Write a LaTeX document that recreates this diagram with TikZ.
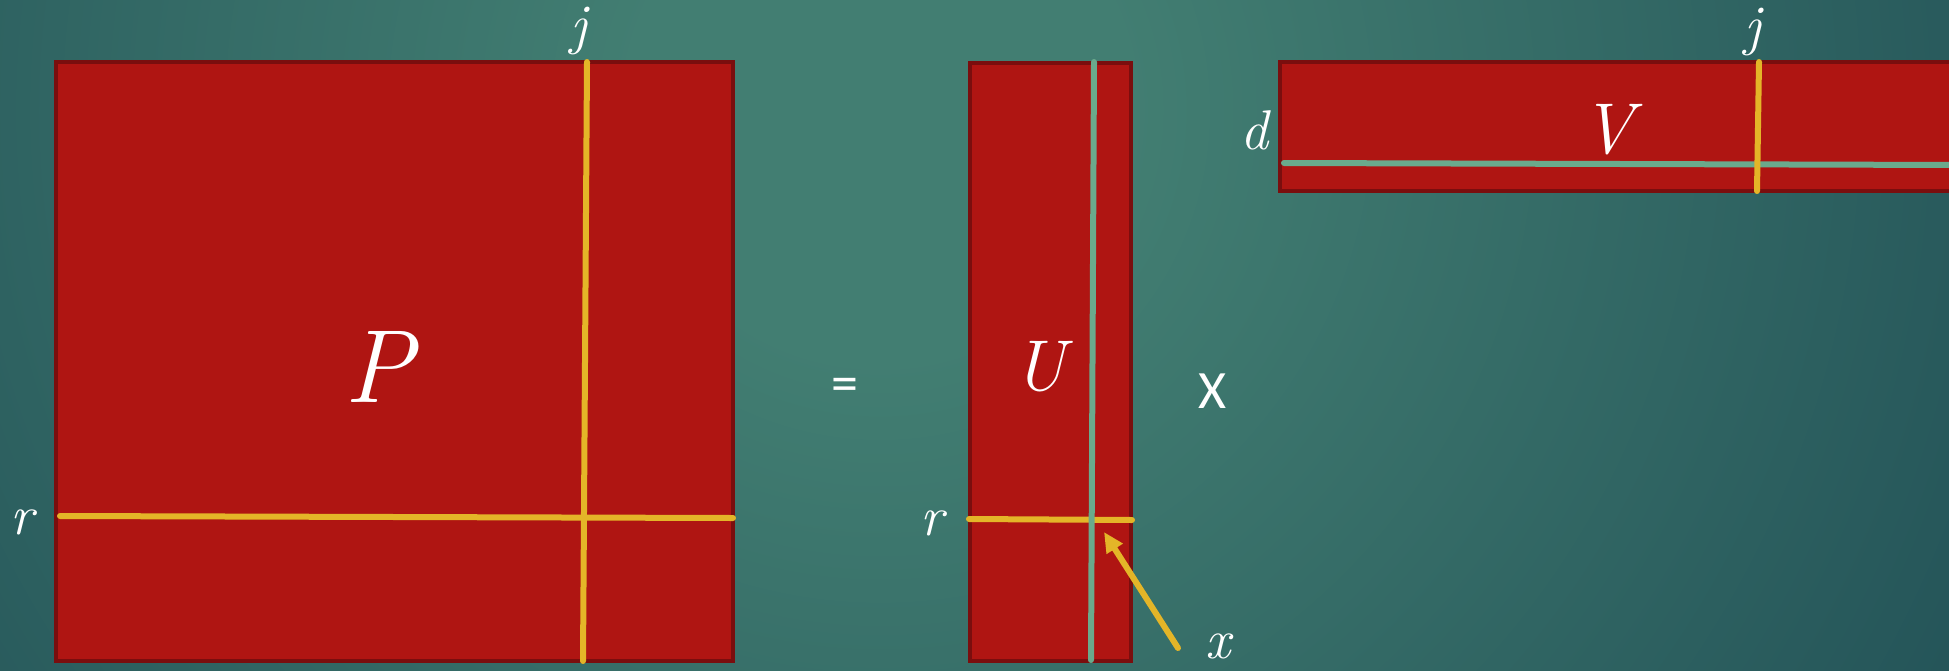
\documentclass[tikz,border=0pt]{standalone}
\usepackage{fontspec}
\newfontfamily\sansf{Carlito}
\usetikzlibrary{arrows.meta}
\definecolor{boxred}{RGB}{175,21,18}
\definecolor{boxedge}{RGB}{122,14,14}
\definecolor{lineyellow}{RGB}{228,181,40}
\definecolor{linegreen}{RGB}{106,170,140}
\definecolor{bglight}{RGB}{66,126,114}
\definecolor{bgdark}{RGB}{26,70,80}
\pgfdeclareradialshading{bgshade}{\pgfpoint{0bp}{0bp}}{color(0bp)=(bglight); color(4bp)=(bglight); color(25bp)=(bgdark); color(50bp)=(bgdark)}
\begin{document}
\begin{tikzpicture}[x=0.5pt,y=-0.5pt,
  matbox/.style={fill=boxred, draw=boxedge, line width=2pt},
  yline/.style={draw=lineyellow, line width=3pt, line cap=round},
  gline/.style={draw=linegreen, line width=3pt, line cap=round},
  lbl/.style={text=white, inner sep=0pt, font=\fontsize{28}{32}\selectfont\itshape},
  biglbl/.style={text=white, inner sep=0pt, font=\fontsize{52}{56}\selectfont\itshape},
  midlbl/.style={text=white, inner sep=0pt, font=\fontsize{36}{40}\selectfont\itshape},
  oplbl/.style={text=white, inner sep=0pt, font=\sansf\fontsize{27}{30}\selectfont}]
\useasboundingbox (0,0) rectangle (1949,670);
\begin{scope}
\clip (0,0) rectangle (1949,670);
\shade[shading=bgshade] (880,110) circle (1550);
% P matrix
\draw[matbox] (56,62) rectangle (733,661);
\coordinate (Prl) at (60,516);
\coordinate (Prr) at (733,518);
\coordinate (Pjt) at (587,62);
\coordinate (Pjb) at (583,661);
\draw[yline] (Pjt) -- (Pjb);
\draw[yline] (Prl) -- (Prr);
\node[biglbl] (P) at (379,367) {P};
\node[lbl] (Pj) at (579,31) {j};
\node[lbl] (Pr) at (22,522) {r};
% equals
\node[oplbl] (eq) at (845,390) {=};
% U matrix
\draw[matbox] (970,63) rectangle (1131,661);
\coordinate (Url) at (969,519);
\coordinate (Urr) at (1132,520);
\coordinate (Uct) at (1094,62);
\coordinate (Ucb) at (1091,660);
\draw[yline] (Url) -- (Urr);
\draw[gline] (Uct) -- (Ucb);
\node[midlbl] (U) at (1040,367) {U};
\node[lbl] (Ur) at (932,523) {r};
% times
\node[oplbl] (times) at (1212,391) {X};
% arrow to x
\coordinate (xtail) at (1178,648);
\coordinate (xtip) at (1104,532);
\draw[yline, -{Triangle[length=10pt, width=9pt]}] (xtail) -- (xtip);
\node[lbl] (xl) at (1218,646) {x};
% V matrix
\draw[matbox] (1280,62) rectangle (1960,191);
\coordinate (Vdl) at (1284,163);
\coordinate (Vdr) at (1960,165);
\coordinate (Vjt) at (1759,62);
\coordinate (Vjb) at (1757,191);
\draw[gline] (Vdl) -- (Vdr);
\draw[yline] (Vjt) -- (Vjb);
\node[midlbl] (V) at (1608,130) {V};
\node[lbl] (Vd) at (1254,130) {d};
\node[lbl] (Vj) at (1753,32) {j};
\end{scope}
\end{tikzpicture}
\end{document}
